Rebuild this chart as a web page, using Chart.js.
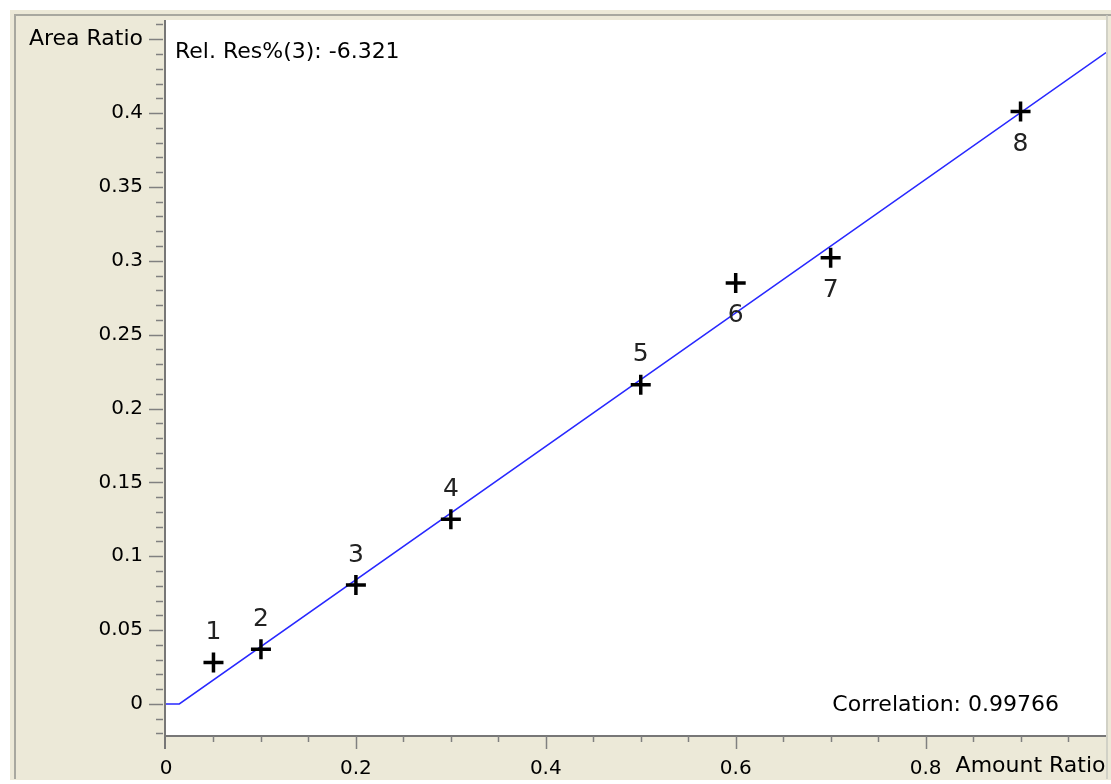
<!DOCTYPE html>
<html>
<head>
<meta charset="utf-8">
<script src="https://cdn.jsdelivr.net/npm/chart.js@4"></script>
<style>
  body { margin: 0; background: #fff; }
  canvas { display: block; }
</style>
</head>
<body>
<canvas id="myChart" width="1111" height="784"></canvas>
<script>
// calibration points (amount ratio vs area ratio)
const amountRatio = [0.05, 0.1, 0.2, 0.3, 0.5, 0.6, 0.7, 0.9];
const areaRatio = [0.028, 0.037, 0.0805, 0.125, 0.216, 0.285, 0.302, 0.401];
const pointNames = ['1', '2', '3', '4', '5', '6', '7', '8'];
const nameSide = ['above', 'above', 'above', 'above', 'above', 'below', 'below', 'below'];

// fitted calibration curve
const fitX = [0, 0.014, 0.99];
const fitY = [0, 0, 0.441];

// axis ticks
const xTickValues = [0, 0.2, 0.4, 0.6, 0.8];
const xTickLabels = ['0', '0.2', '0.4', '0.6', '0.8'];
const yTickValues = [0, 0.05, 0.1, 0.15, 0.2, 0.25, 0.3, 0.35, 0.4, 0.45];
const yTickLabels = ['0', '0.05', '0.1', '0.15', '0.2', '0.25', '0.3', '0.35', '0.4', 'Area Ratio'];
const xTitle = 'Amount Ratio';
const residualText = 'Rel. Res%(3): -6.321';
const correlationText = 'Correlation: 0.99766';

Chart.defaults.font.family = "'DejaVu Sans', sans-serif";
Chart.defaults.color = '#000';

// beige panel, axes with minor ticks, point numbers and notes
const framePlugin = {
    id: 'frame',
    beforeDraw: (chart) => {
        const { ctx, chartArea: a, width, height } = chart;
        ctx.save();
        ctx.fillStyle = '#fff';
        ctx.fillRect(0, 0, width, height);
        ctx.fillStyle = '#ece9d8';
        ctx.fillRect(10, 10, width - 10, 770);
        ctx.strokeStyle = '#a8a8a0';
        ctx.lineWidth = 2;
        ctx.beginPath();
        ctx.moveTo(15, 779);
        ctx.lineTo(15, 15);
        ctx.lineTo(width, 15);
        ctx.stroke();
        ctx.fillStyle = '#fff';
        ctx.fillRect(a.left, a.top, a.right - a.left, a.bottom - a.top);
        ctx.restore();
    },
    afterDraw: (chart) => {
        const { ctx, chartArea: a } = chart;
        const xs = chart.scales.x;
        const ys = chart.scales.y;
        ctx.save();
        ctx.strokeStyle = '#777';
        ctx.lineWidth = 2;
        // axis lines
        ctx.beginPath();
        ctx.moveTo(a.left - 1, a.top);
        ctx.lineTo(a.left - 1, a.bottom + 13);
        ctx.moveTo(a.left, a.bottom);
        ctx.lineTo(a.right, a.bottom);
        ctx.stroke();
        ctx.strokeStyle = '#808080';
        ctx.lineWidth = 1.5;
        // y ticks every 0.01
        for (let k = -2; k <= 46; k++) {
            const y = Math.round(ys.getPixelForValue(k / 100)) + 0.5;
            const len = k % 5 === 0 ? 14 : 7;
            ctx.beginPath();
            ctx.moveTo(a.left - 3, y);
            ctx.lineTo(a.left - 3 - len, y);
            ctx.stroke();
        }
        // x ticks every 0.05
        for (let k = 1; k <= 19; k++) {
            const x = Math.round(xs.getPixelForValue(k * 0.05)) + 0.5;
            const len = k % 4 === 0 ? 13 : 6;
            ctx.beginPath();
            ctx.moveTo(x, a.bottom);
            ctx.lineTo(x, a.bottom + len);
            ctx.stroke();
        }
        // right edge
        ctx.strokeStyle = '#c8c8c0';
        ctx.beginPath();
        ctx.moveTo(a.right + 1, 15);
        ctx.lineTo(a.right + 1, 779);
        ctx.stroke();

        // x axis title next to last label
        ctx.fillStyle = '#000';
        ctx.font = "22px 'DejaVu Sans'";
        ctx.textBaseline = 'middle';
        ctx.textAlign = 'left';
        ctx.fillText(xTitle, xs.getPixelForValue(0.8) + 30, a.bottom + 30);

        // notes
        ctx.fillText(residualText, a.left + 9, a.top + 32);
        ctx.textAlign = 'right';
        ctx.fillText(correlationText, a.right - 47, a.bottom - 31);

        // point numbers
        ctx.font = "25px 'DejaVu Sans'";
        ctx.fillStyle = '#222';
        ctx.textAlign = 'center';
        const meta = chart.getDatasetMeta(0);
        meta.data.forEach((el, i) => {
            const dy = nameSide[i] === 'above' ? -30 : 33;
            ctx.fillText(pointNames[i], el.x, el.y + dy);
        });
        ctx.restore();
    }
};

const chart = document.getElementById('myChart');

const config = {
    type: 'scatter',
    data: {
        datasets: [
            {
                label: 'Standards',
                data: amountRatio.map((x, i) => ({ x: x, y: areaRatio[i] })),
                pointStyle: 'cross',
                pointRadius: 10,
                borderColor: '#000',
                borderWidth: 3.5,
                showLine: false,
                order: 0
            },
            {
                label: 'Fit',
                data: fitX.map((x, i) => ({ x: x, y: fitY[i] })),
                showLine: true,
                pointRadius: 0,
                borderColor: 'rgb(40, 40, 255)',
                borderWidth: 1.5,
                order: 1
            }
        ]
    },
    options: {
        responsive: false,
        animation: false,
        layout: { autoPadding: false, padding: { top: 20, right: 5, left: 0, bottom: 0 } },
        scales: {
            x: {
                type: 'linear',
                bounds: 'data',
                min: 0,
                max: 0.99,
                grid: { display: false, drawTicks: false },
                border: { display: false },
                afterBuildTicks: (scale) => {
                    scale.ticks = xTickValues.map(v => ({ value: v }));
                },
                afterFit: (scale) => {
                    scale.height = 48;
                    scale.paddingLeft = 0;
                    scale.paddingRight = 0;
                },
                ticks: {
                    autoSkip: false,
                    maxRotation: 0,
                    padding: 21,
                    font: { size: 20 },
                    callback: (v, i) => xTickLabels[i]
                }
            },
            y: {
                type: 'linear',
                bounds: 'data',
                min: -0.0217,
                max: 0.463,
                grid: { display: false, drawTicks: false },
                border: { display: false },
                afterBuildTicks: (scale) => {
                    scale.ticks = yTickValues.map(v => ({ value: v }));
                },
                afterFit: (scale) => {
                    scale.width = 166;
                    scale.paddingTop = 0;
                    scale.paddingBottom = 0;
                },
                ticks: {
                    autoSkip: false,
                    padding: 23,
                    // the top label is the axis name, a bit larger
                    font: (ctx) => ({ size: ctx.index === yTickValues.length - 1 ? 22 : 20 }),
                    callback: (v, i) => yTickLabels[i]
                }
            }
        },
        plugins: {
            legend: { display: false },
            tooltip: { enabled: false }
        }
    },
    plugins: [framePlugin]
};

const myChart = new Chart(chart, config);
</script>
</body>
</html>
